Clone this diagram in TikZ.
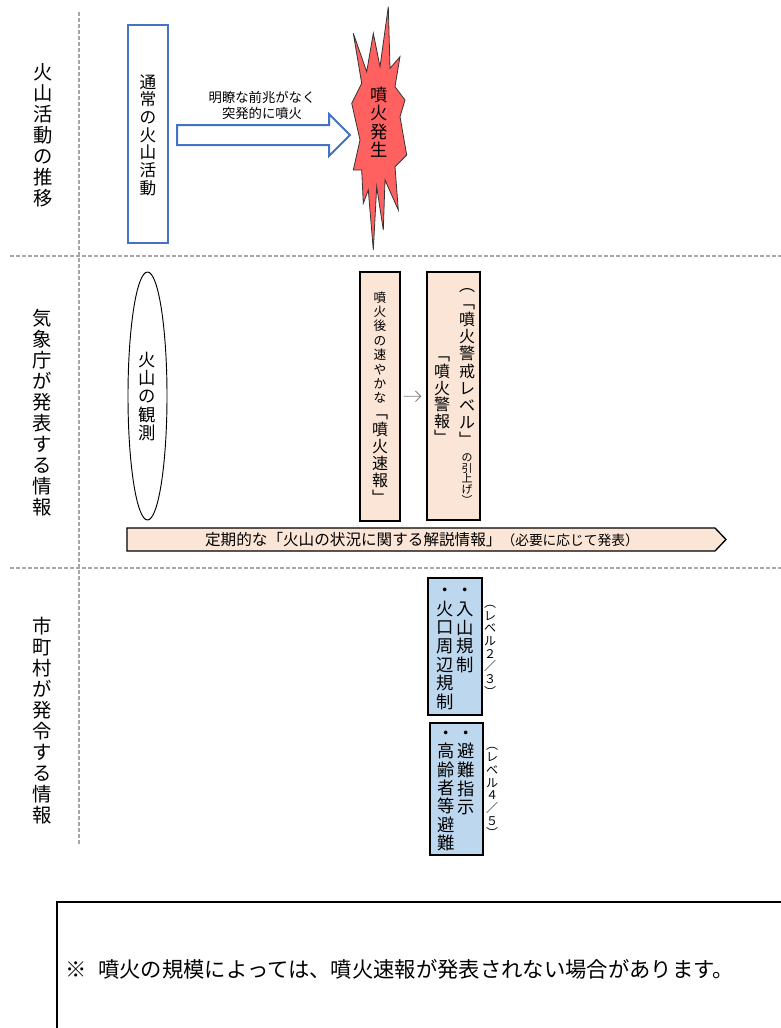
\documentclass[tikz,border=0pt]{standalone}
\usepackage{fontspec}
\setmainfont{Noto Sans CJK JP}
\usetikzlibrary{arrows.meta,shapes.geometric}
\definecolor{ablue}{HTML}{4472C4}
\definecolor{peach}{HTML}{FBE5D6}
\definecolor{lblue}{HTML}{BDD7EE}
\definecolor{fire}{HTML}{FF6161}
\definecolor{sepgray}{HTML}{A6A6A6}
\makeatletter
\newcommand\Vt[2]{\vbox{\offinterlineskip\@tfor\vt@c:=#2\do{\hbox{\vrule height .85\dimexpr#1\relax depth .15\dimexpr#1\relax width 0pt\hbox to 1em{\hss\vt@c\hss}}}}}
\makeatother
\begin{document}
\begin{tikzpicture}[x=0.75pt,y=-0.75pt,
  txt/.style={inner sep=0pt, outer sep=0pt},
  sep/.style={draw=sepgray, line width=1.1pt, dash pattern=on 3pt off 1.5pt},
  bluebox/.style={draw=ablue, line width=1.5pt, fill=white, inner sep=0pt},
  peachbox/.style={draw=black, line width=1pt, fill=peach, inner sep=0pt},
  lbluebox/.style={draw=black, line width=1.1pt, fill=lblue, inner sep=0pt},
  lab/.style={txt, font=\fontsize{14.5}{16}\selectfont},
  garr/.style={draw=gray, line width=0.6pt, -{Straight Barb[length=4pt,width=8pt]}}]
\useasboundingbox (0,0) rectangle (781,1028);
\clip (0,0) rectangle (781,1028);
% separators
\draw[sep] (79,12) -- (79,845);
\draw[sep] (10,256) -- (781,256);
\draw[sep] (10,568) -- (781,568);
% left labels
\node[lab] (l1) at (43,135) {\Vt{15.75pt}{火山活動の推移}};
\node[lab] (l2) at (42,412.5) {\Vt{15.75pt}{気象庁が発表する情報}};
\node[lab] (l3) at (42,721) {\Vt{15.75pt}{市町村が発令する情報}};
% section 1
\node[bluebox, minimum width=30pt, minimum height=163.5pt] (normal) at (148,134) {};
\node[txt, font=\fontsize{12.5}{14}\selectfont] (normaltxt) at (148,135) {\Vt{13.25pt}{通常の火山活動}};
\draw[draw=ablue, line width=1.5pt, fill=white, line join=miter] (177,125) -- (329,125) -- (329,114) -- (350,135) -- (329,156) -- (329,145) -- (177,145) -- cycle;
\node[txt, font=\fontsize{10}{12}\selectfont, align=center] (arrlab) at (262,105) {明瞭な前兆がなく\\突発的に噴火};
\draw[fill=fire, draw=black!80, line width=0.6pt, line join=miter] (353.3,33.3) -- (366.7,71.7) -- (373.3,33.3) -- (380,66.7) -- (388.3,6.7) -- (390,68.3) -- (400,56.7) -- (395,86.7) -- (405,100) -- (400,116.7) -- (406.7,155) -- (395,166.7) -- (398.3,210) -- (385,180) -- (383.3,230) -- (376.7,186.7) -- (373.3,250) -- (368.3,190) -- (363.3,203.3) -- (361.7,170) -- (353.3,170) -- (360,140) -- (351.7,103.3) -- (361.7,83.3) -- cycle;
\node[txt, font=\fontsize{13}{14}\selectfont] (erupt) at (379,122.5) {\Vt{13.75pt}{噴火発生}};
% section 2
\node[ellipse, draw=black, line width=0.7pt, fill=white, inner sep=0pt, minimum width=29.25pt, minimum height=186pt] (obs) at (147.5,396) {};
\node[txt, font=\fontsize{13}{14}\selectfont] (obstxt) at (147,396.5) {\Vt{13.7pt}{火山の観測}};
\node[peachbox, minimum width=30pt, minimum height=186.75pt] (sokuho) at (380,396.5) {};
\node[txt, font=\fontsize{9.5}{11}\selectfont] (sokuhoa) at (380,347.5) {\Vt{10.8pt}{噴火後の速やかな}};
\node[txt, font=\fontsize{12}{13}\selectfont] (sokuhob) at (380,455.5) {\Vt{12.75pt}{﹁噴火速報﹂}};
\node[peachbox, minimum width=39.75pt, minimum height=186pt] (keiho) at (453.5,396) {};
\node[txt, font=\fontsize{12}{13}\selectfont] (keihoa) at (467,362.5) {\Vt{12.9pt}{︵﹁噴火警戒レベル﹂}};
\node[txt, font=\fontsize{8.2}{9}\selectfont] (keihob) at (467,479) {\Vt{8pt}{の引上げ︶}};
\node[txt, font=\fontsize{12}{13}\selectfont] (keihoc) at (442,396.5) {\Vt{12.45pt}{﹁噴火警報﹂}};
\draw[garr, shorten <=2.25pt, shorten >=3.75pt] (sokuho) -- (keiho);
\draw[draw=black, line width=1pt, fill=peach, line join=miter] (127,528) -- (715,528) -- (726,539.5) -- (715,551) -- (127,551) -- cycle;
\node[txt] (kaisetsu) at (422,540) {\fontsize{11.7}{13}\selectfont 定期的な「火山の状況に関する解説情報」\fontsize{10.3}{13}\selectfont （必要に応じて発表）};
% section 3
\node[lbluebox, minimum width=40.5pt, minimum height=102.75pt] (kisei) at (455,646.5) {};
\node[txt, font=\fontsize{13}{14}\selectfont] (kiseia) at (465,627.5) {\Vt{14pt}{・入山規制}};
\node[txt, font=\fontsize{13}{14}\selectfont] (kiseib) at (445,646) {\Vt{14pt}{・火口周辺規制}};
\node[txt, font=\fontsize{9}{10}\selectfont] (lv23) at (490,647.5) {\Vt{9.5pt}{︵レベル２／３︶}};
\node[lbluebox, minimum width=39.75pt, minimum height=99pt] (hinan) at (456.5,789) {};
\node[txt, font=\fontsize{13}{14}\selectfont] (hinana) at (466,770) {\Vt{13.9pt}{・避難指示}};
\node[txt, font=\fontsize{13}{14}\selectfont] (hinanb) at (446,788) {\Vt{13.75pt}{・高齢者等避難}};
\node[txt, font=\fontsize{9}{10}\selectfont] (lv45) at (492,789) {\Vt{9.5pt}{︵レベル４／５︶}};
% note box
\draw[draw=black, line width=1.1pt] (57,902) rectangle (800,1050);
\node[txt, anchor=west, font=\fontsize{16}{18}\selectfont] (note) at (65,969) {※\hspace{9pt}噴火の規模によっては、噴火速報が発表されない場合があります。};
\end{tikzpicture}
\end{document}
